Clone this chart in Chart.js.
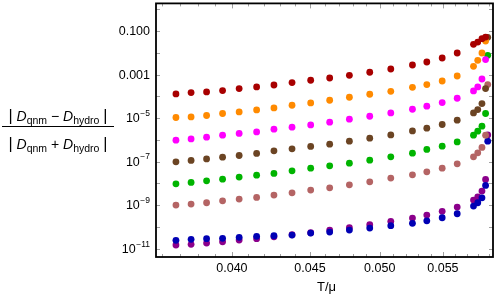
<!DOCTYPE html>
<html>
<head>
<meta charset="utf-8">
<script src="https://cdn.jsdelivr.net/npm/chart.js@4.4.1/dist/chart.umd.min.js"></script>
<style>
  body { margin: 0; background: #fff; }
  #wrap { position: relative; width: 498px; height: 297px; }
  #ylab { position: absolute; left: 2px; top: 106px; width: 112px; font-family: "Liberation Sans", Arial, sans-serif; color: #000; text-align: center; }
  #ylab .row { height: 20px; line-height: 20px; font-size: 14px; white-space: nowrap; }
  #ylab .bar { height: 1.3px; background: #000; margin: 0; }
  #ylab .vb { font-size: 16px; }
  #ylab sub { font-size: 10.5px; vertical-align: -3px; line-height: 0; }
</style>
</head>
<body>
<div id="wrap">
  <canvas id="myChart" width="498" height="297"></canvas>
  <div id="ylab">
    <div class="row"><span class="vb">|</span> <i>D</i><sub>qnm</sub> − <i>D</i><sub>hydro</sub> <span class="vb">|</span></div>
    <div class="bar"></div>
    <div class="row" style="margin-top:7px"><span class="vb">|</span> <i>D</i><sub>qnm</sub> + <i>D</i><sub>hydro</sub> <span class="vb">|</span></div>
  </div>
</div>
<script>
// T/mu values shared by all series
const T = [0.03676, 0.03761, 0.03850, 0.03944, 0.04044, 0.04152, 0.04262, 0.04380, 0.04505, 0.04636, 0.04776,
           0.04925, 0.05084, 0.05253, 0.05368, 0.05494, 0.05620, 0.05760, 0.05797, 0.05834, 0.05866, 0.05885];

const darkRed = [1.29e-4, 1.49e-4, 1.59e-4, 1.85e-4, 2.28e-4, 2.70e-4, 3.33e-4, 4.30e-4, 5.48e-4, 6.98e-4, 9.29e-4,
                 1.28e-3, 1.81e-3, 2.76e-3, 3.78e-3, 5.77e-3, 9.79e-3, 0.0245, 0.0313, 0.0448, 0.0531];
const orange = [1.07e-5, 1.14e-5, 1.32e-5, 1.63e-5, 1.92e-5, 2.38e-5, 2.94e-5, 3.91e-5, 4.98e-5, 6.62e-5, 9.10e-5,
                1.25e-4, 1.71e-4, 2.61e-4, 3.48e-4, 5.08e-4, 8.63e-4, 2.40e-3, 4.53e-3, 9.79e-3, 0.0348];
const magenta = [9.68e-7, 1.11e-6, 1.33e-6, 1.64e-6, 1.97e-6, 2.33e-6, 3.10e-6, 3.83e-6, 4.88e-6, 6.49e-6, 8.91e-6,
                 1.22e-5, 1.73e-5, 2.56e-5, 3.52e-5, 5.20e-5, 8.18e-5, 1.77e-4, 2.70e-4, 6.28e-4, 4.88e-3];
const brown = [9.79e-8, 1.14e-7, 1.34e-7, 1.61e-7, 1.92e-7, 2.38e-7, 3.13e-7, 3.87e-7, 4.98e-7, 6.35e-7, 8.71e-7,
               1.20e-6, 1.69e-6, 2.59e-6, 3.44e-6, 5.08e-6, 8.02e-6, 1.73e-5, 2.48e-5, 4.67e-5, 2.28e-4, 0.0514];
const green = [9.59e-9, 1.11e-8, 1.32e-8, 1.57e-8, 1.95e-8, 2.40e-8, 2.88e-8, 3.79e-8, 5.04e-8, 6.41e-8, 8.53e-8,
               1.17e-7, 1.66e-7, 2.45e-7, 3.63e-7, 5.14e-7, 8.09e-7, 1.64e-6, 2.51e-6, 4.25e-6, 1.63e-5, 7.68e-3];
const rosy = [1.01e-9, 1.12e-9, 1.29e-9, 1.59e-9, 1.91e-9, 2.28e-9, 2.90e-9, 3.71e-9, 4.93e-9, 6.28e-9, 8.63e-9,
              1.18e-8, 1.75e-8, 2.48e-8, 3.40e-8, 5.04e-8, 7.93e-8, 1.66e-7, 2.54e-7, 4.48e-7, 1.64e-6, 3.48e-4];
const blue = [2.43e-11, 2.70e-11, 2.88e-11, 3.00e-11, 3.33e-11, 3.71e-11, 3.94e-11, 4.25e-11, 5.25e-11, 5.83e-11, 7.21e-11,
              8.91e-11, 1.14e-10, 1.46e-10, 1.92e-10, 2.64e-10, 4.04e-10, 9.10e-10, 1.29e-9, 2.18e-9, 8.09e-9, 8.71e-7];
const purple = [1.48e-11, 1.59e-11, 1.82e-11, 2.09e-11, 2.51e-11, 2.88e-11, 3.55e-11, 4.39e-11, 5.42e-11, 7.21e-11, 9.19e-11,
                1.26e-10, 1.81e-10, 2.56e-10, 3.52e-10, 5.20e-10, 8.18e-10, 1.71e-9, 2.43e-9, 4.44e-9, 1.52e-8, 1.69e-6];

const series = [darkRed, orange, magenta, brown, green, rosy, blue, purple];
const colors = ['#a80000', '#ff8a00', '#ff00ff', '#6b4423', '#00b400', '#b46464', '#0000b4', '#8b008b'];

// axis ticks and labels
const xTickValues = [0.040, 0.045, 0.050, 0.055];
const xTickText = ['0.040', '0.045', '0.050', '0.055'];
const xMinorTicks = [0.036, 0.037, 0.038, 0.039, 0.041, 0.042, 0.043, 0.044, 0.046, 0.047, 0.048, 0.049,
                     0.051, 0.052, 0.053, 0.054, 0.056, 0.057, 0.058, 0.059];
const yTickValues = [1e-11, 1e-9, 1e-7, 1e-5, 1e-3, 1e-1];
const yTickBase = ['10', '10', '10', '10', '0.001', '0.100'];
const yTickExp = ['\u221211', '\u22129', '\u22127', '\u22125', '', ''];
const yDecades = [1e-11, 1e-10, 1e-9, 1e-8, 1e-7, 1e-6, 1e-5, 1e-4, 1e-3, 1e-2, 1e-1, 1];
const xTitle = 'T/\u03bc';

const datasets = series.map((vals, k) => ({
    data: vals.map((v, i) => ({ x: T[i], y: v })),
    backgroundColor: colors[k],
    borderWidth: 0,
    pointRadius: 3.4,
    pointHoverRadius: 3.4
}));

const FONT = '"Liberation Sans", Arial, sans-serif';

const frameTicks = {
    id: 'frameTicks',
    beforeDatasetsDraw(chart) {
        const { ctx, chartArea: a, scales: { x, y } } = chart;
        ctx.save();
        ctx.strokeStyle = '#a0a0a0';
        ctx.lineWidth = 1;
        ctx.beginPath();
        yDecades.forEach(v => {
            const py = Math.round(y.getPixelForValue(v)) + 0.5;
            if (py < a.top || py > a.bottom) return;
            ctx.moveTo(a.left, py); ctx.lineTo(a.left + 4, py);
            ctx.moveTo(a.right, py); ctx.lineTo(a.right - 4, py);
        });
        xTickValues.forEach(v => {
            const px = Math.round(x.getPixelForValue(v)) + 0.5;
            ctx.moveTo(px, a.bottom); ctx.lineTo(px, a.bottom - 5);
            ctx.moveTo(px, a.top); ctx.lineTo(px, a.top + 5);
        });
        xMinorTicks.forEach(v => {
            const px = Math.round(x.getPixelForValue(v)) + 0.5;
            if (px < a.left || px > a.right) return;
            ctx.moveTo(px, a.bottom); ctx.lineTo(px, a.bottom - 3);
            ctx.moveTo(px, a.top); ctx.lineTo(px, a.top + 3);
        });
        ctx.stroke();
        ctx.restore();
    },
    afterDraw(chart) {
        const { ctx, chartArea: a, scales: { x, y } } = chart;
        ctx.save();
        ctx.strokeStyle = '#000';
        ctx.lineWidth = 1.8;
        ctx.strokeRect(a.left, a.top, a.right - a.left, a.bottom - a.top);

        ctx.fillStyle = '#000';
        ctx.textBaseline = 'middle';
        // y labels
        yTickValues.forEach((v, i) => {
            const py = y.getPixelForValue(v);
            const right = a.left - 6;
            let w = 0;
            if (yTickExp[i]) {
                ctx.font = '8.5px ' + FONT;
                ctx.textAlign = 'right';
                ctx.fillText(yTickExp[i], right, py - 4.5);
                w = ctx.measureText(yTickExp[i]).width + 0.5;
            }
            ctx.font = '12.5px ' + FONT;
            ctx.textAlign = 'right';
            ctx.fillText(yTickBase[i], right - w, py + 0.5);
        });
        // x labels
        ctx.font = '12.5px ' + FONT;
        ctx.textAlign = 'center';
        xTickValues.forEach((v, i) => {
            ctx.fillText(xTickText[i], x.getPixelForValue(v), a.bottom + 11.5);
        });
        ctx.font = '13px ' + FONT;
        ctx.fillText(xTitle, (a.left + a.right) / 2 + 2, a.bottom + 30);
        ctx.restore();
    }
};

const ctx = document.getElementById('myChart').getContext('2d');
new Chart(ctx, {
    type: 'scatter',
    data: { datasets: datasets },
    options: {
        responsive: false,
        animation: false,
        devicePixelRatio: 1,
        layout: { padding: { top: 3, right: 5, left: 0, bottom: 0 } },
        plugins: { legend: { display: false }, tooltip: { enabled: false } },
        events: [],
        scales: {
            x: {
                type: 'logarithmic',
                min: 0.03567,
                max: 0.05932,
                bounds: 'data',
                grid: { display: false, drawTicks: false },
                border: { display: false },
                ticks: { display: false },
                afterFit(s) { s.height = 40; }
            },
            y: {
                type: 'logarithmic',
                min: 4.16e-12,
                max: 1.865,
                bounds: 'data',
                grid: { display: false, drawTicks: false },
                border: { display: false },
                ticks: { display: false },
                afterFit(s) { s.width = 156; }
            }
        }
    },
    plugins: [frameTicks]
});
</script>
</body>
</html>
